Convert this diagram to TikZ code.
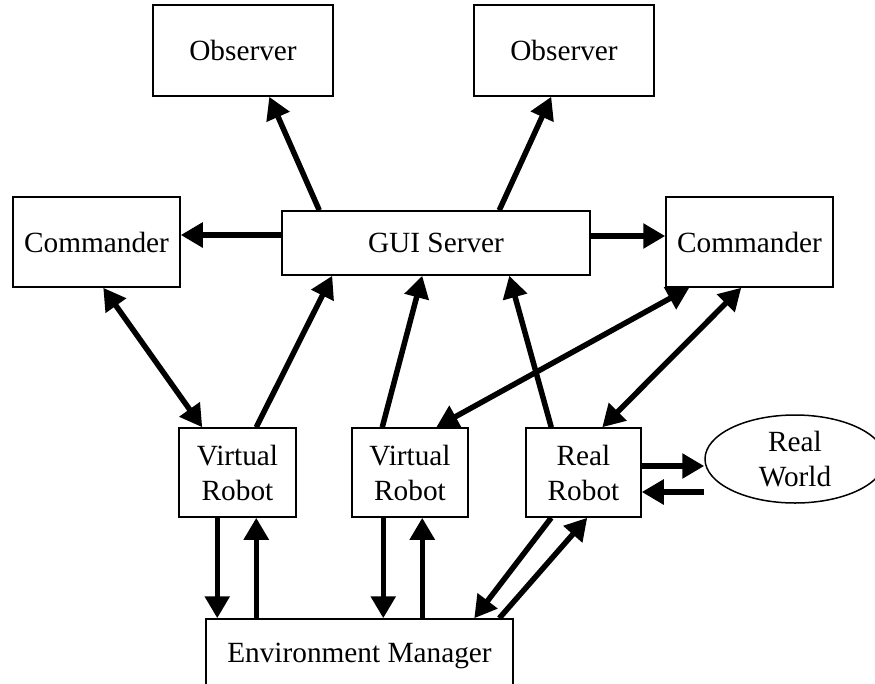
\documentclass[tikz,border=0pt]{standalone}
\usepackage{fontspec}
\setmainfont{Liberation Serif}
\usetikzlibrary{arrows.meta,shapes.geometric}
\begin{document}
\begin{tikzpicture}[x=1pt,y=-1pt,
  box/.style={draw,line width=1.5pt,inner sep=0pt,align=center,font=\fontsize{29.3}{35}\selectfont},
  arr/.style={line width=5.5pt,-{Triangle[length=22pt,width=24pt]}},
  darr/.style={line width=5.5pt,{Triangle[length=22pt,width=24pt]}-{Triangle[length=22pt,width=24pt]}}]
\useasboundingbox (0,0) rectangle (875,683);
\node[box,minimum width=180pt,minimum height=91pt] (obsL) at (243,50.5) {Observer};
\node[box,minimum width=180pt,minimum height=91pt] (obsR) at (564,50.5) {Observer};
\node[box,minimum width=167pt,minimum height=90pt] (cmdL) at (96.5,242) {Commander};
\node[box,minimum width=308pt,minimum height=64pt] (gui) at (436,243) {GUI Server};
\node[box,minimum width=167pt,minimum height=90pt] (cmdR) at (749.5,242) {Commander};
\node[box,minimum width=117pt,minimum height=89pt] (vr1) at (237.5,472.5) {Virtual\\Robot};
\node[box,minimum width=116pt,minimum height=89pt] (vr2) at (410,472.5) {Virtual\\Robot};
\node[box,minimum width=115pt,minimum height=89pt] (rr) at (583.5,472.5) {Real\\Robot};
\node[box,ellipse,minimum width=180pt,minimum height=88pt] (rw) at (795,459) {Real\\World};
\node[box,minimum width=307pt,minimum height=74pt] (env) at (359.5,656) {Environment Manager};

\draw[arr] ([xshift=38pt]gui.north west) -- ([xshift=117pt]obsL.south west);
\draw[arr] ([xshift=218pt]gui.north west) -- ([xshift=78pt]obsR.south west);
\draw[arr] ([yshift=8pt]gui.west) -- ([yshift=7pt]cmdL.east);
\draw[arr] ([yshift=7pt]gui.east) -- ([yshift=6pt]cmdR.west);
\draw[darr] ([xshift=91pt]cmdL.south west) -- ([xshift=24pt]vr1.north west);
\draw[arr] ([xshift=78pt]vr1.north west) -- ([xshift=51pt]gui.south west);
\draw[arr] ([xshift=31pt]vr2.north west) -- ([xshift=141pt]gui.south west);
\draw[arr] ([xshift=26pt]rr.north west) -- ([xshift=228pt]gui.south west);
\draw[darr] ([xshift=24pt]cmdR.south west) -- ([xshift=85pt]vr2.north west);
\draw[darr] ([xshift=76pt]cmdR.south west) -- ([xshift=77pt]rr.north west);
\draw[arr] ([yshift=6.5pt]rr.east) -- ([yshift=-7pt]rw.west);
\draw[arr] ([yshift=-33pt]rw.west) -- ([yshift=-19.5pt]rr.east);
\draw[arr] ([xshift=39pt]vr1.south west) -- ([xshift=12pt]env.north west);
\draw[arr] ([xshift=51pt]env.north west) -- ([xshift=78pt]vr1.south west);
\draw[arr] ([xshift=32pt]vr2.south west) -- ([xshift=178pt]env.north west);
\draw[arr] ([xshift=217pt]env.north west) -- ([xshift=71pt]vr2.south west);
\draw[arr] ([xshift=26pt]rr.south west) -- ([xshift=269pt]env.north west);
\draw[arr] ([xshift=294pt]env.north west) -- ([xshift=62pt]rr.south west);
\end{tikzpicture}
\end{document}
